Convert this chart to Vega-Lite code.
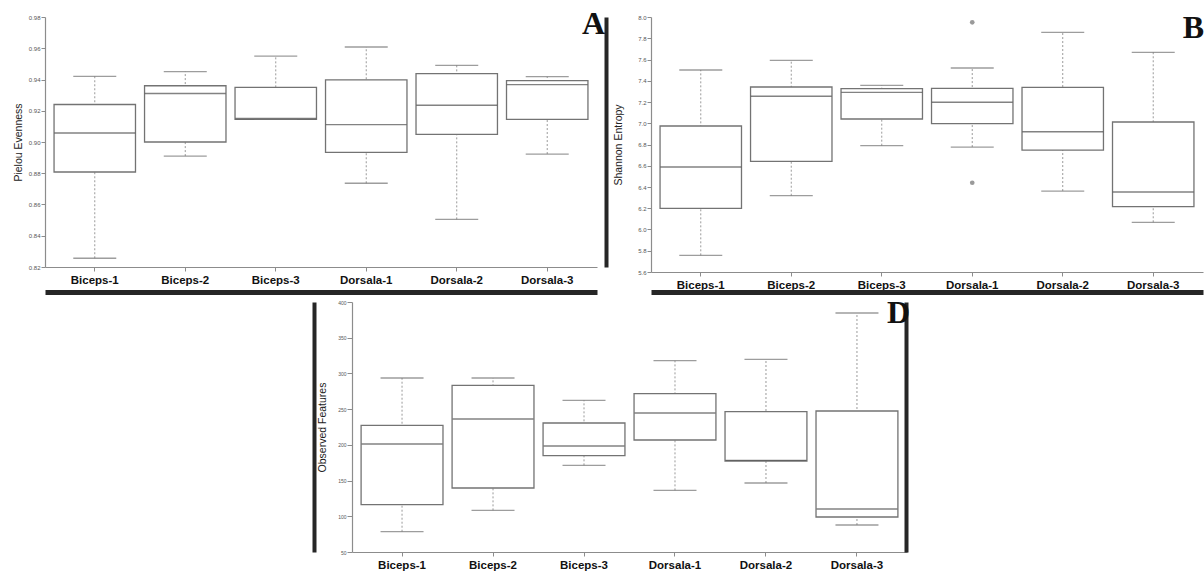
{
  "$schema": "https://vega.github.io/schema/vega-lite/v6.json",
  "padding": {"left": 13, "top": 8, "right": 0, "bottom": 0},
  "background": "white",
  "config": {
    "view": {"stroke": null},
    "axis": {"domainColor": "#8c8c8c", "tickColor": "#8c8c8c", "labelFont": "Liberation Sans", "titleFont": "Liberation Sans", "grid": false, "domainWidth": 1.2, "tickWidth": 1},
    "axisY": {"labelFontSize": 6, "labelColor": "#555555", "tickSize": 4, "labelPadding": 1, "titleFontSize": 10.5, "titleFontWeight": "normal", "titleColor": "#222222"},
    "axisX": {"labelFontSize": 11.5, "labelFontWeight": "bold", "labelColor": "#111111", "tickSize": 4, "labelPadding": 3, "labelAngle": 0},
    "title": {"font": "Liberation Serif", "fontSize": 32, "fontWeight": "bold", "color": "#111111", "anchor": "end", "frame": "group", "offset": 0}
  },
  "datasets": {
    "A": [
      {"group": "Biceps-1", "lower": 0.8256, "q1": 0.8808, "median": 0.9058, "q3": 0.924, "upper": 0.942},
      {"group": "Biceps-2", "lower": 0.891, "q1": 0.9, "median": 0.931, "q3": 0.936, "upper": 0.945},
      {"group": "Biceps-3", "lower": 0.9145, "q1": 0.9145, "median": 0.915, "q3": 0.935, "upper": 0.955},
      {"group": "Dorsala-1", "lower": 0.8736, "q1": 0.8934, "median": 0.9111, "q3": 0.9397, "upper": 0.9608},
      {"group": "Dorsala-2", "lower": 0.8505, "q1": 0.9049, "median": 0.9235, "q3": 0.9437, "upper": 0.9491},
      {"group": "Dorsala-3", "lower": 0.8923, "q1": 0.9145, "median": 0.9367, "q3": 0.9393, "upper": 0.9418}
    ],
    "B": [
      {"group": "Biceps-1", "lower": 5.757, "q1": 6.199, "median": 6.588, "q3": 6.974, "upper": 7.501},
      {"group": "Biceps-2", "lower": 6.318, "q1": 6.642, "median": 7.254, "q3": 7.341, "upper": 7.592},
      {"group": "Biceps-3", "lower": 6.789, "q1": 7.04, "median": 7.291, "q3": 7.326, "upper": 7.357},
      {"group": "Dorsala-1", "lower": 6.776, "q1": 6.996, "median": 7.197, "q3": 7.329, "upper": 7.52},
      {"group": "Dorsala-2", "lower": 6.362, "q1": 6.748, "median": 6.92, "q3": 7.338, "upper": 7.856},
      {"group": "Dorsala-3", "lower": 6.068, "q1": 6.215, "median": 6.353, "q3": 7.012, "upper": 7.668}
    ],
    "Bout": [
      {"group": "Dorsala-1", "value": 7.95},
      {"group": "Dorsala-1", "value": 6.44}
    ],
    "D": [
      {"group": "Biceps-1", "lower": 78.4, "q1": 116.2, "median": 201.2, "q3": 227.3, "upper": 293.6},
      {"group": "Biceps-2", "lower": 108.3, "q1": 139.6, "median": 236.2, "q3": 283.2, "upper": 293.6},
      {"group": "Biceps-3", "lower": 171.3, "q1": 184.8, "median": 198.4, "q3": 230.6, "upper": 262.3},
      {"group": "Dorsala-1", "lower": 136.3, "q1": 206.8, "median": 244.6, "q3": 271.6, "upper": 317.8},
      {"group": "Dorsala-2", "lower": 146.6, "q1": 177.4, "median": 178.3, "q3": 246.4, "upper": 319.7},
      {"group": "Dorsala-3", "lower": 87.8, "q1": 99, "median": 110.2, "q3": 247.4, "upper": 384.6}
    ]
  },
  "vconcat": [
    {
      "hconcat": [
        {
          "width": 552, "height": 250,
          "title": {"text": "A", "dx": 8, "dy": 31},
          "data": {"name": "A"},
          "resolve": {"axis": {"x": "independent", "y": "independent"}},
          "layer": [
            {
              "mark": {"type": "rule", "strokeDash": [2, 2], "color": "#9a9a9a", "strokeWidth": 1},
              "encoding": {
                "x": {"field": "group", "type": "nominal", "sort": null, "scale": {"paddingInner": 0, "paddingOuter": 0.05}, "axis": {"title": null}},
                "y": {"field": "lower", "type": "quantitative", "scale": {"domain": [0.82, 0.98], "nice": false, "zero": false}, "axis": {"title": "Pielou Evenness", "values": [0.82, 0.84, 0.86, 0.88, 0.9, 0.92, 0.94, 0.96, 0.98], "format": ".2f", "titlePadding": 5}},
                "y2": {"field": "upper"}
              }
            },
            {
              "mark": {"type": "bar", "fill": "white", "stroke": "#737373", "strokeWidth": 1.3, "width": {"band": 0.9}},
              "encoding": {
                "x": {"field": "group", "type": "nominal", "sort": null, "axis": {"orient": "bottom", "offset": 25, "domainWidth": 5, "domainColor": "#262626", "labels": false, "ticks": false, "title": null}},
                "y": {"field": "q1", "type": "quantitative", "axis": {"orient": "right", "offset": 9, "domainWidth": 4, "domainColor": "#262626", "labels": false, "ticks": false, "title": null}},
                "y2": {"field": "q3"}
              }
            },
            {
              "mark": {"type": "tick", "color": "#4d4d4d", "thickness": 1.4, "size": 81},
              "encoding": {
                "x": {"field": "group", "type": "nominal", "sort": null, "axis": null},
                "y": {"field": "median", "type": "quantitative", "axis": null}
              }
            },
            {
              "mark": {"type": "tick", "color": "#737373", "thickness": 1.3, "size": 43},
              "encoding": {
                "x": {"field": "group", "type": "nominal", "sort": null, "axis": null},
                "y": {"field": "lower", "type": "quantitative", "axis": null}
              }
            },
            {
              "mark": {"type": "tick", "color": "#737373", "thickness": 1.3, "size": 43},
              "encoding": {
                "x": {"field": "group", "type": "nominal", "sort": null, "axis": null},
                "y": {"field": "upper", "type": "quantitative", "axis": null}
              }
            }
          ]
        },
        {
          "width": 552, "height": 255,
          "title": {"text": "B", "dx": 1, "dy": 35},
          "data": {"name": "B"},
          "resolve": {"axis": {"x": "independent", "y": "independent"}},
          "layer": [
            {
              "mark": {"type": "rule", "strokeDash": [2, 2], "color": "#9a9a9a", "strokeWidth": 1},
              "encoding": {
                "x": {"field": "group", "type": "nominal", "sort": null, "scale": {"paddingInner": 0, "paddingOuter": 0.05}, "axis": {"title": null}},
                "y": {"field": "lower", "type": "quantitative", "scale": {"domain": [5.6, 8.0], "nice": false, "zero": false}, "axis": {"title": "Shannon Entropy", "values": [5.6, 5.8, 6.0, 6.2, 6.4, 6.6, 6.8, 7.0, 7.2, 7.4, 7.6, 7.8, 8.0], "format": ".1f", "titlePadding": 14}},
                "y2": {"field": "upper"}
              }
            },
            {
              "mark": {"type": "bar", "fill": "white", "stroke": "#737373", "strokeWidth": 1.3, "width": {"band": 0.9}},
              "encoding": {
                "x": {"field": "group", "type": "nominal", "sort": null, "axis": {"orient": "bottom", "offset": 20, "domainWidth": 5, "domainColor": "#262626", "labels": false, "ticks": false, "title": null}},
                "y": {"field": "q1", "type": "quantitative", "axis": {"orient": "right", "offset": 14, "domainWidth": 1, "domainColor": "#ffffff", "labels": false, "ticks": false, "title": null}},
                "y2": {"field": "q3"}
              }
            },
            {
              "mark": {"type": "tick", "color": "#4d4d4d", "thickness": 1.4, "size": 81},
              "encoding": {
                "x": {"field": "group", "type": "nominal", "sort": null, "axis": null},
                "y": {"field": "median", "type": "quantitative", "axis": null}
              }
            },
            {
              "mark": {"type": "tick", "color": "#737373", "thickness": 1.3, "size": 43},
              "encoding": {
                "x": {"field": "group", "type": "nominal", "sort": null, "axis": null},
                "y": {"field": "lower", "type": "quantitative", "axis": null}
              }
            },
            {
              "mark": {"type": "tick", "color": "#737373", "thickness": 1.3, "size": 43},
              "encoding": {
                "x": {"field": "group", "type": "nominal", "sort": null, "axis": null},
                "y": {"field": "upper", "type": "quantitative", "axis": null}
              }
            },
            {
              "data": {"name": "Bout"},
              "mark": {"type": "point", "filled": true, "color": "#9a9a9a", "size": 22, "opacity": 1},
              "encoding": {
                "x": {"field": "group", "type": "nominal", "sort": null, "axis": null},
                "y": {"field": "value", "type": "quantitative", "axis": null}
              }
            }
          ]
        }
      ],
      "spacing": 7
    },
    {
      "width": 555, "height": 250,
      "title": {"text": "D", "dx": 3, "dy": 34},
      "data": {"name": "D"},
      "resolve": {"axis": {"x": "independent", "y": "independent"}},
      "layer": [
        {
          "mark": {"type": "rule", "strokeDash": [2, 2], "color": "#9a9a9a", "strokeWidth": 1},
          "encoding": {
            "x": {"field": "group", "type": "nominal", "sort": null, "scale": {"paddingInner": 0, "paddingOuter": 0.05}, "axis": {"title": null}},
            "y": {"field": "lower", "type": "quantitative", "scale": {"domain": [50, 400], "nice": false, "zero": false}, "axis": {"title": "Observed Features", "values": [50, 100, 150, 200, 250, 300, 350, 400], "labelFontSize": 5, "tickSize": 5, "titlePadding": 10}},
            "y2": {"field": "upper"}
          }
        },
        {
          "mark": {"type": "bar", "fill": "white", "stroke": "#737373", "strokeWidth": 1.3, "width": {"band": 0.9}},
          "encoding": {
            "x": {"field": "group", "type": "nominal", "sort": null, "axis": null},
            "y": {"field": "q1", "type": "quantitative", "axis": {"orient": "left", "offset": 38, "domainWidth": 4, "domainColor": "#262626", "labels": false, "ticks": false, "title": null}},
            "y2": {"field": "q3"}
          }
        },
        {
          "mark": {"type": "tick", "color": "#4d4d4d", "thickness": 1.4, "size": 81},
          "encoding": {
            "x": {"field": "group", "type": "nominal", "sort": null, "axis": null},
            "y": {"field": "median", "type": "quantitative", "axis": {"orient": "right", "offset": -1, "domainWidth": 4, "domainColor": "#262626", "labels": false, "ticks": false, "title": null}}
          }
        },
        {
          "mark": {"type": "tick", "color": "#737373", "thickness": 1.3, "size": 43},
          "encoding": {
            "x": {"field": "group", "type": "nominal", "sort": null, "axis": null},
            "y": {"field": "lower", "type": "quantitative", "axis": null}
          }
        },
        {
          "mark": {"type": "tick", "color": "#737373", "thickness": 1.3, "size": 43},
          "encoding": {
            "x": {"field": "group", "type": "nominal", "sort": null, "axis": null},
            "y": {"field": "upper", "type": "quantitative", "axis": null}
          }
        }
      ]
    }
  ],
  "spacing": 5,
  "center": true
}
